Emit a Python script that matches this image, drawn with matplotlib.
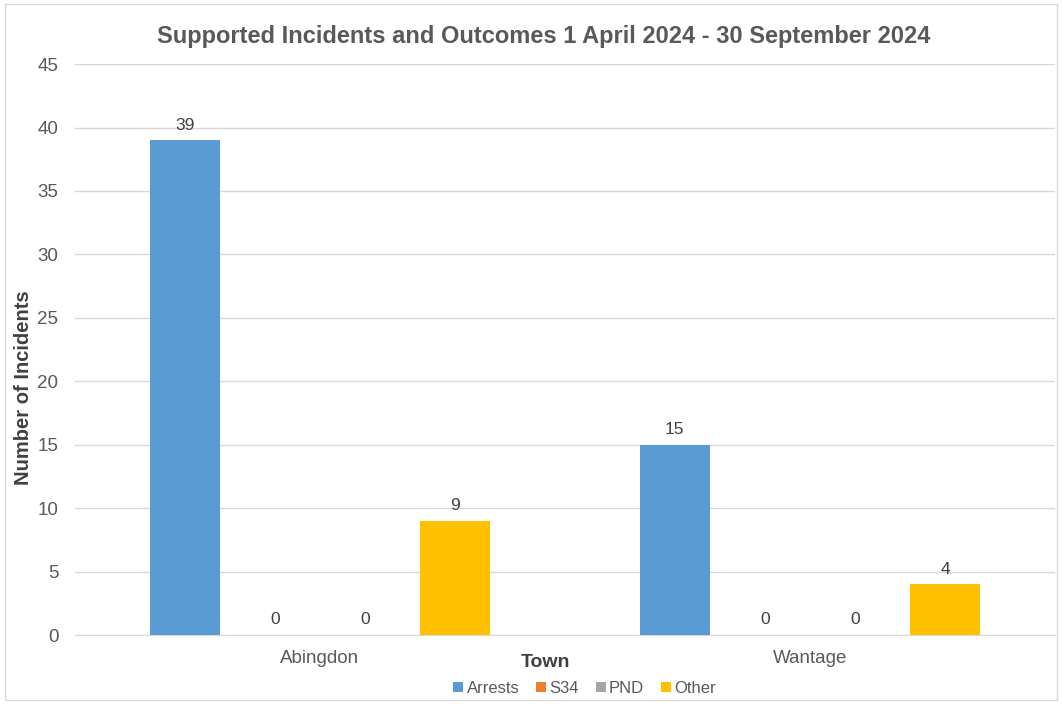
import numpy as np
import matplotlib
matplotlib.use("Agg")
import matplotlib.pyplot as plt
from matplotlib.patches import Rectangle

plt.rcParams["font.family"] = ["Liberation Sans", "DejaVu Sans"]

towns = ["Abingdon", "Wantage"]
series = ["Arrests", "S34", "PND", "Other"]
arrests = [39, 15]
s34 = [0, 0]
pnd = [0, 0]
other = [9, 4]
colors = ["#5B9BD5", "#ED7D31", "#A5A5A5", "#FFC000"]

values = [arrests, s34, pnd, other]

fig = plt.figure(figsize=(10.62, 7.04), dpi=100)
ax = fig.add_axes([0.0706, 0.098, 0.9228, 0.811])

x = np.arange(len(towns))
width = 0.143
step = 0.184
for i, (name, vals, c) in enumerate(zip(series, values, colors)):
    pos = x + (i - 1.5) * step
    bars = ax.bar(pos, vals, width=width, color=c, label=name, zorder=3)
    for b, v in zip(bars, vals):
        ax.text(b.get_x() + b.get_width() / 2, v + 0.6, str(v),
                ha="center", va="bottom", fontsize=12.5, color="#404040", zorder=4)

ax.set_xlim(-0.5, 1.5)
ax.set_ylim(0, 45)
ax.set_yticks(range(0, 46, 5))
ax.set_xticks(x)
ax.set_xticklabels(towns)
ax.tick_params(axis="both", length=0, labelsize=13.5, labelcolor="#595959")
ax.tick_params(axis="x", pad=11)
ax.tick_params(axis="y", pad=12)
ax.grid(axis="y", color="#d9d9d9", linewidth=1, zorder=0)
for s in ["top", "right", "left"]:
    ax.spines[s].set_visible(False)
ax.spines["bottom"].set_color("#d9d9d9")

ax.set_title("Supported Incidents and Outcomes 1 April 2024 - 30 September 2024",
             fontsize=17, fontweight="bold", color="#595959", pad=15, x=0.478)
ax.set_ylabel("Number of Incidents", fontsize=14.5, fontweight="bold", color="#404040")
ax.yaxis.set_label_coords(-0.043, 0.434)
ax.set_xlabel("Town", fontsize=14, fontweight="bold", color="#404040")
ax.xaxis.set_label_coords(0.48, -0.033)

ax.legend(loc="upper center", bbox_to_anchor=(0.52, -0.054), ncol=4, frameon=False,
          fontsize=12, labelcolor="#595959", handlelength=0.6, handleheight=0.6,
          handletextpad=0.2, columnspacing=1.0)

fig.patches.append(Rectangle((0.005, 0.005), 0.99, 0.99, transform=fig.transFigure,
                             fill=False, edgecolor="#d9d9d9", linewidth=1))

fig.savefig("out.png", dpi=100)
